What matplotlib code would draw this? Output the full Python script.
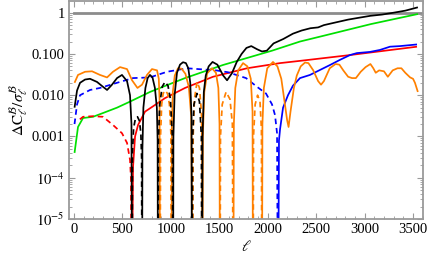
import numpy as np
import matplotlib
matplotlib.use("Agg")
import matplotlib.pyplot as plt
from matplotlib.ticker import FixedLocator, MultipleLocator, NullFormatter

# signed values: positive -> solid, negative -> dashed, 0 marks a sign change
black_l = [5, 31, 62, 114, 165, 237, 299, 341, 392, 444, 495, 547, 578, 593, 599,
           603, 615, 635, 655, 675, 690, 698, 702,
           706, 716, 737, 760, 784, 810, 835, 855, 863, 867,
           871, 885, 910, 939, 970, 995, 1015, 1022,
           1026, 1038, 1063, 1094, 1125, 1155, 1180, 1200, 1213, 1218,
           1223, 1238, 1270, 1295, 1315, 1321,
           1327, 1340, 1360, 1390, 1430, 1480, 1540, 1580, 1630, 1680, 1730, 1780,
           1830, 1890, 1940, 1990, 2060, 2160, 2260, 2350, 2440, 2520, 2580, 2700,
           2830, 2950, 3060, 3180, 3300, 3420, 3550]
black_v = [0.005, 0.013, 0.02, 0.024, 0.025, 0.021, 0.016, 0.0134, 0.018, 0.026, 0.031, 0.022, 0.01, 0.002, 0,
           -0.0004, -0.0016, -0.0028, -0.003, -0.0024, -0.0012, -0.0003, 0,
           0.0005, 0.005, 0.015, 0.026, 0.031, 0.027, 0.015, 0.005, 0.0008, 0,
           -0.0008, -0.006, -0.016, -0.021, -0.017, -0.008, -0.001, 0,
           0.001, 0.01, 0.035, 0.055, 0.063, 0.06, 0.045, 0.02, 0.003, 0,
           -0.0008, -0.006, -0.011, -0.007, -0.001, 0,
           0.001, 0.012, 0.03, 0.05, 0.064, 0.055, 0.03, 0.023, 0.034, 0.064, 0.1, 0.14,
           0.155, 0.13, 0.115, 0.12, 0.18, 0.23, 0.31, 0.37, 0.42, 0.44, 0.5, 0.58,
           0.68, 0.76, 0.84, 0.9, 1.0, 1.12, 1.35]

green_l = [5, 41, 93, 196, 299, 444, 578, 784, 1022, 1146, 1538, 2044, 2333, 2560, 3066, 3551]
green_v = [0.0004, 0.0017, 0.0028, 0.003, 0.0037, 0.005, 0.007, 0.012, 0.02, 0.026, 0.054, 0.12, 0.2, 0.27, 0.53, 0.93]

red_l = [60, 93, 196, 299, 402, 495, 547, 578, 588, 593,
         609, 630, 661, 733, 836, 939, 1146, 1435, 1786, 2127, 2333, 2849, 3541]
red_v = [-0.0026, -0.003, -0.0031, -0.003, -0.0019, -0.0012, -0.0007, -0.00027, -0.00009, 0,
         0.00018, 0.001, 0.0019, 0.004, 0.0058, 0.0085, 0.015, 0.028, 0.045, 0.06, 0.068, 0.094, 0.15]

blue_l = [5, 31, 62, 165, 268, 444, 609, 784, 960, 1166, 1466, 1590, 1776, 1889, 1982, 2044, 2075, 2096, 2106,
          2116, 2127, 2158, 2209, 2260, 2333, 2436, 2540, 2643, 2746, 2849, 2921, 3055, 3158, 3262, 3365, 3541]
blue_v = [-0.002, -0.006, -0.01, -0.0134, -0.015, -0.02, -0.026, -0.027, -0.037, -0.045, -0.04, -0.036, -0.026,
          -0.016, -0.011, -0.006, -0.0033, -0.0012, 0,
          0.0008, 0.0015, 0.005, 0.01, 0.017, 0.026, 0.031, 0.041, 0.054, 0.072, 0.094, 0.105, 0.112, 0.125,
          0.15, 0.155, 0.17]

orange_l = [5, 41, 114, 186, 268, 341, 402, 475, 547, 599, 655, 702, 753, 805, 857, 875, 883, 888,
            893, 905, 920, 940, 965, 985, 1000, 1006,
            1010, 1020, 1040, 1073, 1110, 1150, 1185, 1210, 1225,
            1230, 1243, 1270, 1295, 1315, 1322, 1325,
            1330, 1345, 1375, 1424, 1465, 1490, 1502, 1507,
            1512, 1530, 1570, 1610, 1635, 1644,
            1650, 1665, 1695, 1745, 1790, 1825, 1843, 1848,
            1853, 1870, 1895, 1920, 1935, 1940,
            1945, 1960, 1995, 2054, 2100, 2140, 2170, 2200, 2215, 2235, 2270, 2300, 2340,
            2385, 2420, 2470, 2520, 2550, 2580, 2640, 2700, 2740, 2780, 2830, 2870, 2910,
            2960, 3010, 3060, 3090, 3115, 3150, 3200, 3240, 3290, 3340, 3380, 3420, 3470,
            3500, 3520, 3550]
orange_v = [0.02, 0.031, 0.037, 0.038, 0.031, 0.027, 0.037, 0.048, 0.043, 0.023, 0.015, 0.018, 0.031, 0.043,
            0.04, 0.025, 0.008, 0,
            -0.001, -0.006, -0.011, -0.013, -0.011, -0.006, -0.0012, 0,
            0.002, 0.012, 0.03, 0.045, 0.044, 0.033, 0.016, 0.003, 0,
            -0.001, -0.008, -0.021, -0.015, -0.004, -0.0007, 0,
            0.001, 0.012, 0.034, 0.045, 0.035, 0.015, 0.002, 0,
            -0.001, -0.006, -0.012, -0.008, -0.002, 0,
            0.002, 0.015, 0.04, 0.06, 0.05, 0.025, 0.004, 0,
            -0.001, -0.006, -0.01, -0.007, -0.0015, 0,
            0.002, 0.015, 0.045, 0.064, 0.05, 0.025, 0.008, 0.0025, 0.0017, 0.004, 0.015, 0.03, 0.05,
            0.062, 0.06, 0.04, 0.022, 0.018, 0.022, 0.045, 0.057, 0.055, 0.04, 0.028, 0.026, 0.026,
            0.037, 0.048, 0.057, 0.045, 0.035, 0.04, 0.038, 0.028, 0.04, 0.045, 0.045, 0.035, 0.027,
            0.025, 0.02, 0.012]

ref_l = [0, 3700]
ref_v = [1, 1]

plt.rcParams['font.family'] = ['Liberation Serif', 'DejaVu Serif']
plt.rcParams['mathtext.fontset'] = 'stix'

fig = plt.figure(figsize=(4.36, 2.65), dpi=100)
ax = fig.add_axes([69 / 436, 1 - 219 / 265, 354 / 436, 218 / 265])


def draw(l, v, color):
    l = np.asarray(l, float)
    v = np.asarray(v, float)
    cuts = [0] + list(np.where(v == 0)[0]) + [len(v) - 1]
    for a, b in zip(cuts[:-1], cuts[1:]):
        if b <= a:
            continue
        sl, sv = l[a:b + 1], v[a:b + 1]
        sign = np.sign(sv[sv != 0][0])
        ls = '-' if sign > 0 else (0, (3.2, 2.2))
        ax.plot(sl, np.maximum(np.abs(sv), 1e-8), color=color, ls=ls, lw=1.25,
                solid_capstyle='butt', dash_capstyle='butt')


ax.plot(ref_l, ref_v, color='#8c8c8c', lw=2)
draw(green_l, green_v, '#00e000')
draw(red_l, red_v, '#ff0000')
draw(blue_l, blue_v, '#0000ff')
draw(orange_l, orange_v, '#ff8000')
draw(black_l, black_v, 'black')

ax.set_yscale('log')
ax.set_ylim(1e-5, 1.92)
ax.set_xlim(-52, 3603)

ax.yaxis.set_major_locator(FixedLocator([1e-5, 1e-4, 1e-3, 1e-2, 1e-1, 1]))
ax.set_yticklabels(['$10^{-5}$', '$10^{-4}$', '0.001', '0.010', '0.100', '1'])
minors = [m * 10.0 ** e for e in range(-5, 1) for m in range(2, 10)]
ax.yaxis.set_minor_locator(FixedLocator(minors))
ax.yaxis.set_minor_formatter(NullFormatter())
ax.xaxis.set_major_locator(MultipleLocator(500))
ax.xaxis.set_minor_locator(MultipleLocator(100))

for s in ax.spines.values():
    s.set_color('#9a9a9a')
    s.set_linewidth(1.3)
ax.tick_params(which='both', direction='in', top=True, right=True, color='#9a9a9a',
               labelsize=10.5, pad=3)
ax.tick_params(which='major', length=4.5, width=0.8)
ax.tick_params(which='minor', length=2.5, width=0.6)

ax.set_xlabel(r'$\ell$', fontsize=11, labelpad=2)
ax.set_ylabel(r'$\Delta\mathrm{C}_\ell^{\mathcal{B}}/\sigma_\ell^{\mathcal{B}}$', fontsize=11, labelpad=1)

fig.savefig('out.png', dpi=100)
